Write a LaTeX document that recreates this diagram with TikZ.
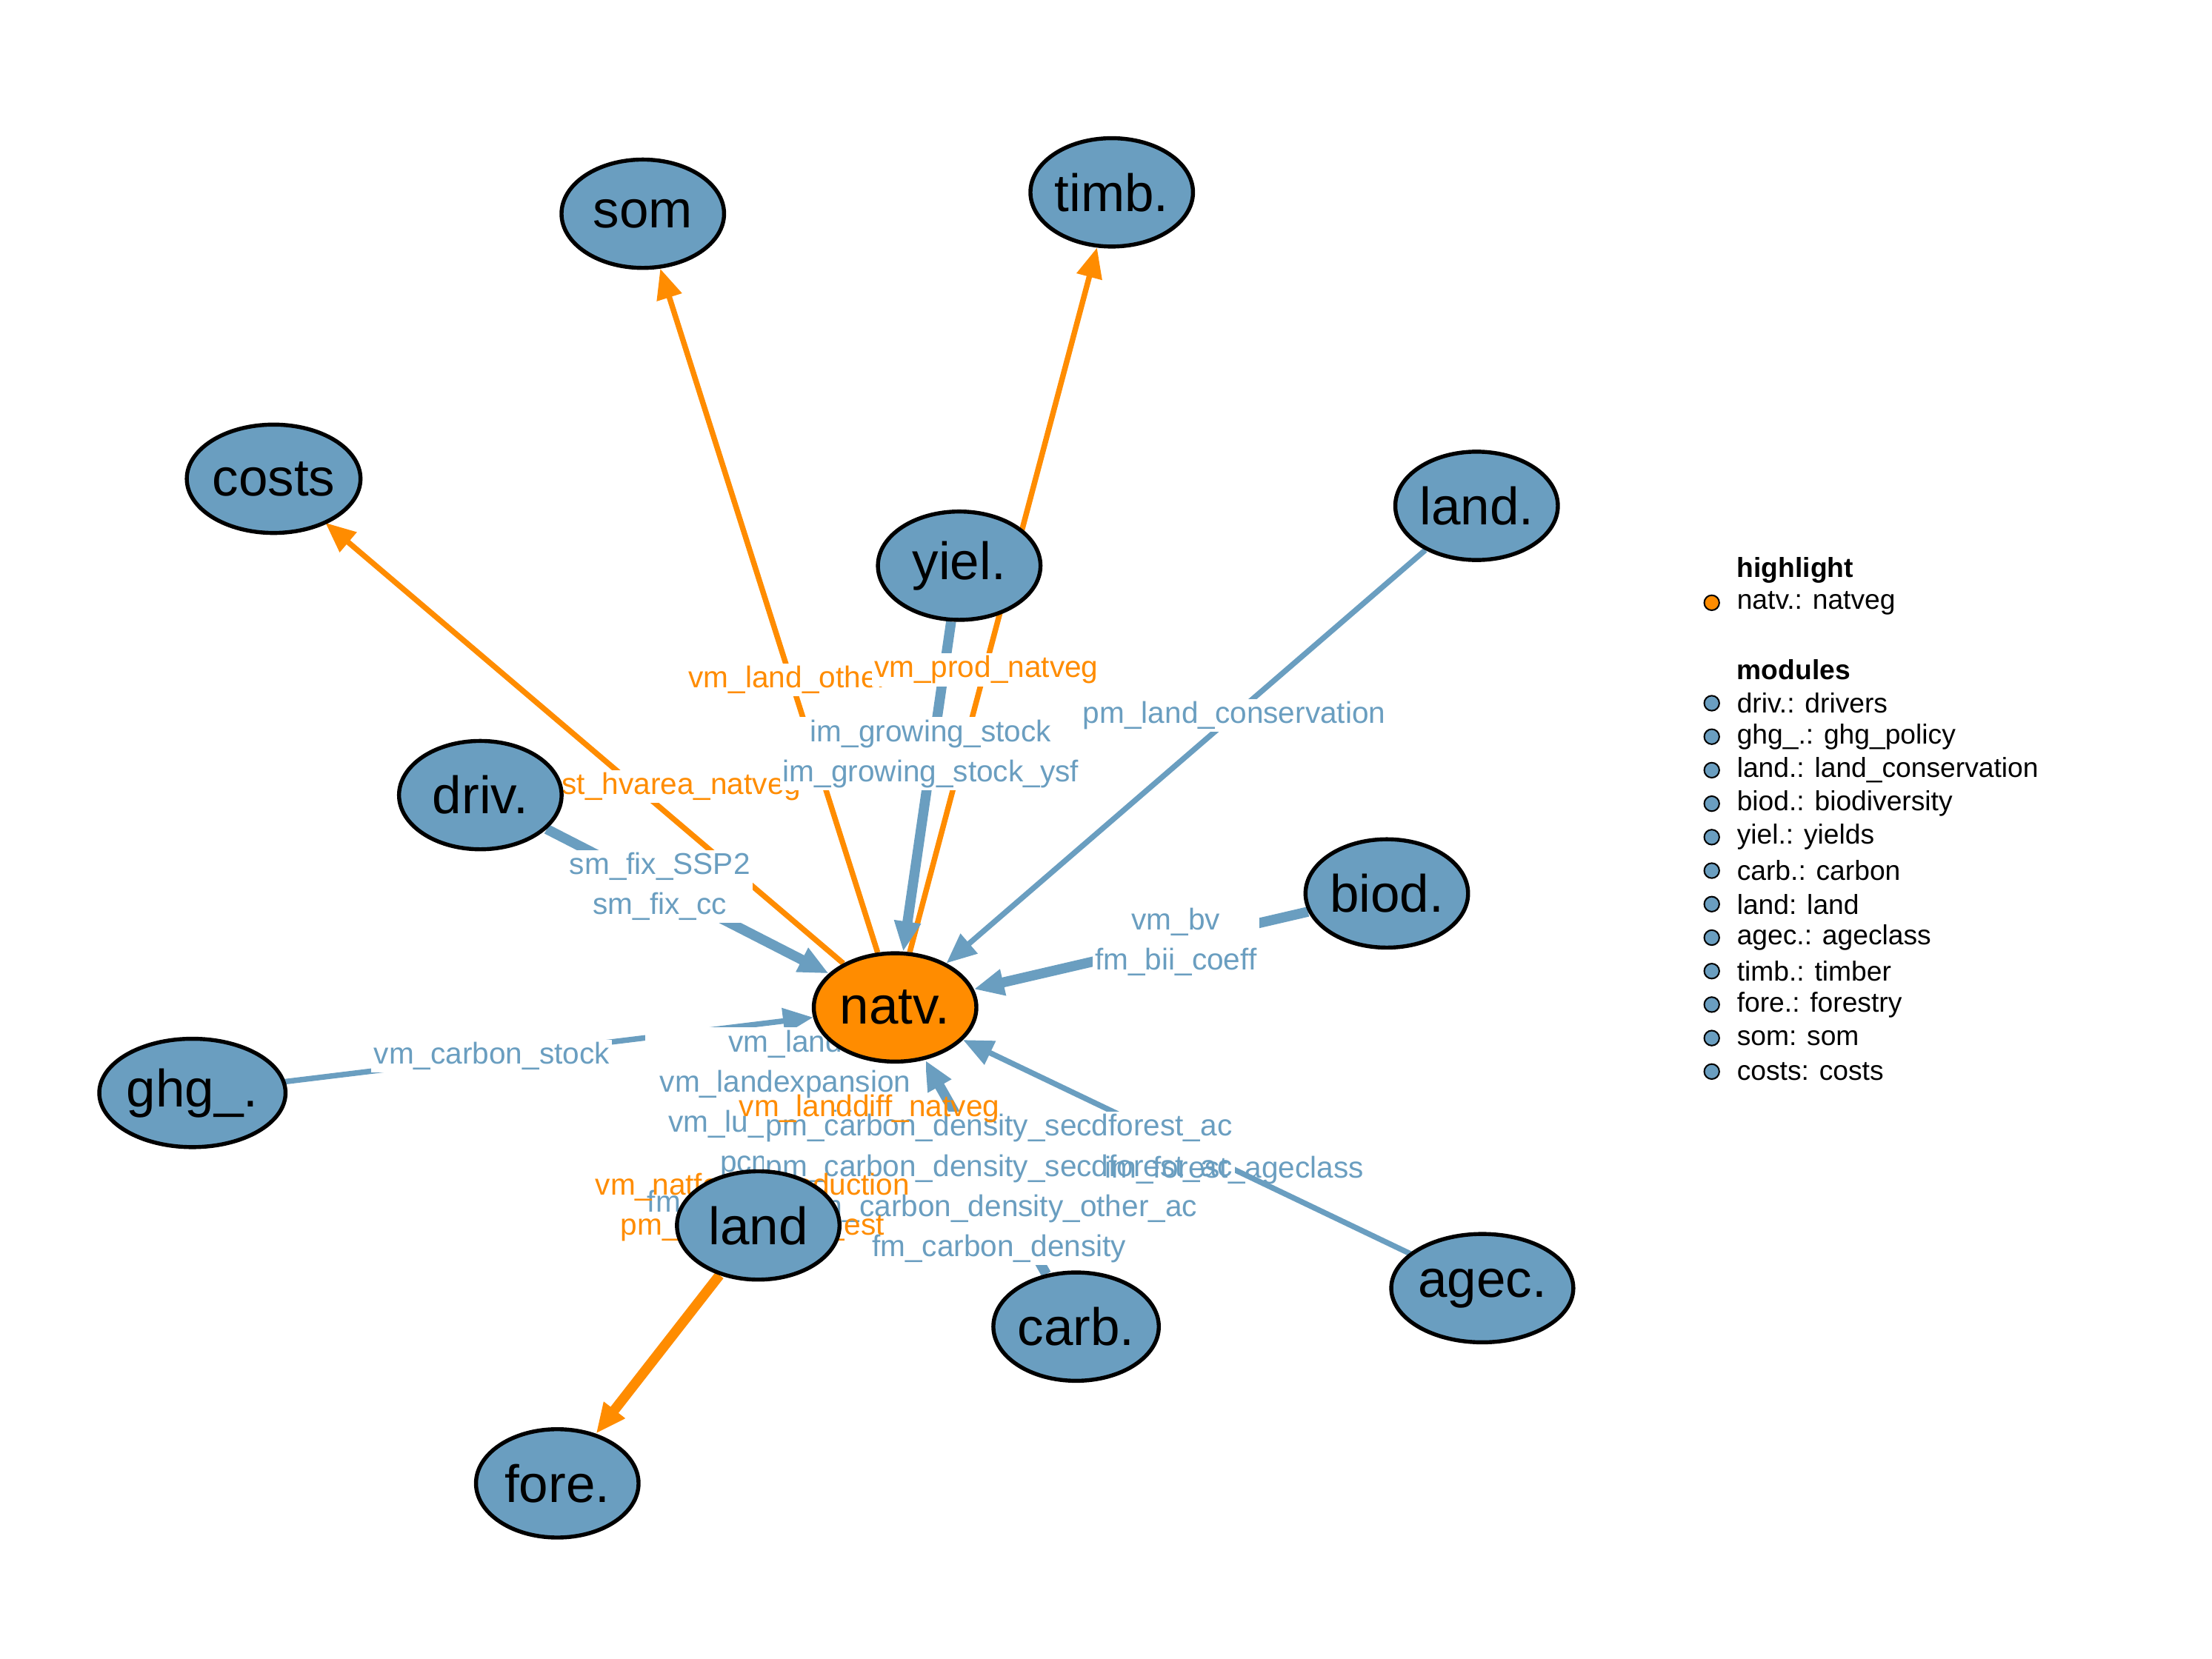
\documentclass[tikz,border=0pt]{standalone}
\usepackage{fontspec}
\setmainfont{Liberation Sans}
\usetikzlibrary{positioning, arrows.meta, shapes.geometric}
\definecolor{modblue}{HTML}{6A9EC0}
\definecolor{hlorange}{HTML}{FF8C00}
\begin{document}
\begin{tikzpicture}[
                x=0.01cm, y=-0.01cm,
                >={Triangle[length=6pt,width=5pt]},
                module/.style={ellipse, draw=black, thick, fill=modblue, minimum width=1.14cm, minimum height=0.76cm, inner sep=0pt, font=\fontsize{10.5}{11}\selectfont},
                blueedge/.style={->, draw=modblue, line width=1.1pt},
                orangeedge/.style={->, draw=hlorange, line width=1.1pt},
                elabel/.style={fill=white, inner sep=0.5pt, font=\fontsize{6}{7}\selectfont},
                dot/.style={circle, draw=black, line width=0.3pt, minimum size=3pt, inner sep=0pt},
                legtext/.style={anchor=west, inner sep=0pt, font=\fontsize{5.5}{6}\selectfont},
            ]
                \useasboundingbox (0,0) rectangle (1552,1164);

                % Module positions
                \coordinate (p-natv) at (628,707);
                \coordinate (p-som) at (451,150);
                \coordinate (p-timb) at (780,135);
                \coordinate (p-costs) at (192,336);
                \coordinate (p-yiel) at (673,397);
                \coordinate (p-lcon) at (1036,355);
                \coordinate (p-driv) at (337,558);
                \coordinate (p-biod) at (973,627);
                \coordinate (p-ghg) at (135,767);
                \coordinate (p-land) at (532,860);
                \coordinate (p-carb) at (755,931);
                \coordinate (p-agec) at (1040,904);
                \coordinate (p-fore) at (391,1041);

                % Draw the module nodes (invisible first, for the edges)
                \foreach \name in {natv,som,timb,costs,yiel,lcon,driv,biod,ghg,land,carb,agec,fore}
                    \node[module, draw=none, fill=none] (\name) at (p-\name) {};

                % Edges
                \draw[orangeedge] (natv) -- (som);
                \draw[orangeedge] (natv) -- (timb);
                \draw[orangeedge] (natv) -- (costs);
                \draw[orangeedge] (natv) -- (land);
                \draw[orangeedge, line width=2pt] (land) -- (fore);
                \draw[blueedge, line width=2pt] (yiel) -- (natv);
                \draw[blueedge] (lcon) -- (natv);
                \draw[blueedge, line width=2pt] (driv) -- (natv);
                \draw[blueedge, line width=2pt] (biod) -- (natv);
                \draw[blueedge] (ghg) -- (natv);
                \draw[blueedge] (agec) -- (natv);
                \draw[blueedge, line width=2.4pt] (land) -- (natv);
                \draw[blueedge, line width=2pt] (carb) -- (natv);

                % Edge labels
                \node[elabel, text=hlorange] (l-som) at (553,477) {vm\_land\_other};
                \node[elabel, text=hlorange] (l-timb) at (692,470) {vm\_prod\_natveg};
                \node[elabel, text=hlorange] (l-costs) at (450,552) {ov\_cost\_hvarea\_natveg};
                \node[elabel, text=modblue, align=center] (l-yiel) at (653,529) {im\_growing\_stock\\[1pt]im\_growing\_stock\_ysf};
                \node[elabel, text=modblue] (l-lcon) at (866,502) {pm\_land\_conservation};
                \node[elabel, text=modblue, align=center] (l-driv) at (463,622) {sm\_fix\_SSP2\\[1pt]sm\_fix\_cc};
                \node[elabel, text=modblue, align=center] (l-biod) at (825,661) {vm\_bv\\[1pt]fm\_bii\_coeff};
                \node[elabel, text=modblue] (l-ghg) at (345,741) {vm\_carbon\_stock};
                \node[elabel, text=modblue, align=center] (l-land) at (551,789) {vm\_land\\[1pt]vm\_landexpansion\\[1pt]vm\_lu\_transitions\\[1pt]pcm\_land\\[1pt]fm\_luh2\_side\_layers};
                \node[elabel, text=modblue, align=center] (l-carb) at (701,834) {pm\_carbon\_density\_secdforest\_ac\\[1pt]pm\_carbon\_density\_secdforest\_ac\\[1pt]pm\_carbon\_density\_other\_ac\\[1pt]fm\_carbon\_density};
                \node[elabel, text=modblue, fill=none] (l-agec) at (866,821) {im\_forest\_ageclass};
                \node[elabel, text=hlorange, fill=none] (l-ndiff) at (610,778) {vm\_landdiff\_natveg};
                \node[elabel, text=hlorange, align=center, fill=none] (l-nland) at (528,847) {vm\_natforest\_reduction\\[1pt]pm\_max\_forest\_est};

                % Module nodes
                \node[module, fill=hlorange] at (p-natv) {natv.};
                \node[module] at (p-som) {som};
                \node[module] at (p-timb) {timb.};
                \node[module] at (p-costs) {costs};
                \node[module] at (p-yiel) {yiel.};
                \node[module] at (p-lcon) {land.};
                \node[module] at (p-driv) {driv.};
                \node[module] at (p-biod) {biod.};
                \node[module] at (p-ghg) {ghg\_.};
                \node[module] at (p-land) {land};
                \node[module] at (p-carb) {carb.};
                \node[module] at (p-agec) {agec.};
                \node[module] at (p-fore) {fore.};

                % Legend
                \node[legtext, font=\fontsize{5.5}{6}\selectfont\bfseries] (h-title) at (1218,400) {highlight};
                \node[dot, fill=hlorange] (h-dot) at (1201,423) {};
                \node[legtext] (h-natv) at (1218,423) {natv.: natveg};
                \node[legtext, font=\fontsize{5.5}{6}\selectfont\bfseries] (m-title) at (1218,470) {modules};
                \foreach \txt [count=\i] in {driv.: drivers, ghg\_.: ghg\_policy, land.: land\_conservation, biod.: biodiversity, yiel.: yields, carb.: carbon, land: land, agec.: ageclass, timb.: timber, fore.: forestry, som: som, costs: costs} {
                    \node[dot, fill=modblue] (m-dot-\i) at (1201,470+23.5*\i) {};
                    \node[legtext] (m-\i) at (1218,470+23.5*\i) {\txt};
                }
            \end{tikzpicture}
\end{document}
